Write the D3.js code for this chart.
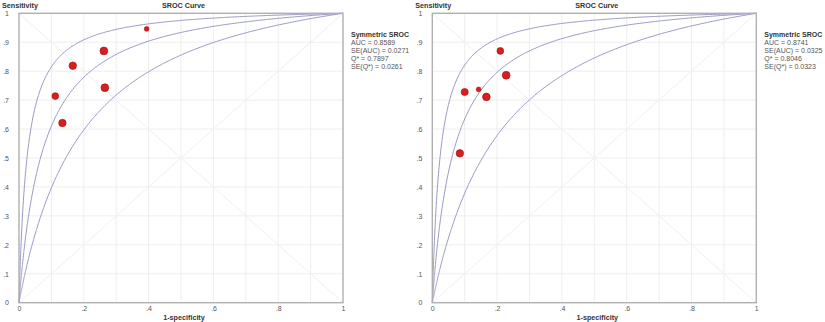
<!DOCTYPE html>
<html><head><meta charset="utf-8">
<script src="https://cdn.jsdelivr.net/npm/d3@7"></script>
<style>
body{margin:0;background:#fff;}
svg{display:block;font-family:"Liberation Sans",Arial,sans-serif;}
</style></head>
<body><svg id="c" width="825" height="322"></svg>
<script>
// ---- data ----
const xTicks = [0, 0.2, 0.4, 0.6, 0.8, 1];
const xTickLabels = ["0", ".2", ".4", ".6", ".8", "1"];
const yTicks = [0, 0.1, 0.2, 0.3, 0.4, 0.5, 0.6, 0.7, 0.8, 0.9, 1];
const yTickLabels = ["0", ".1", ".2", ".3", ".4", ".5", ".6", ".7", ".8", ".9", "1"];

// panel A studies
const fprA = [0.394, 0.262, 0.166, 0.265, 0.112, 0.134];
const tprA = [0.946, 0.870, 0.819, 0.743, 0.714, 0.621];
const wA   = [1.0, 2.6, 2.4, 2.6, 2.0, 2.4];
// SROC curve parameters (logit shift D: upper, fitted, lower)
const curvesA = [3.68, 2.646, 1.78];
const statsA = ["AUC = 0.8589", "SE(AUC) = 0.0271", "Q* = 0.7897", "SE(Q*) = 0.0261"];

// panel B studies
const fprB = [0.210, 0.228, 0.100, 0.143, 0.167, 0.085];
const tprB = [0.870, 0.786, 0.728, 0.737, 0.711, 0.516];
const wB   = [2.0, 2.6, 2.2, 1.0, 2.5, 2.4];
const curvesB = [3.72, 2.75, 1.70];
const statsB = ["AUC = 0.8741", "SE(AUC) = 0.0325", "Q* = 0.8046", "SE(Q*) = 0.0323"];

const titleText = "SROC Curve";
const yTitle = "Sensitivity";
const xTitle = "1-specificity";
const legendTitle = "Symmetric SROC";

// ---- drawing ----
const svg = d3.select("#c");
const rScale = d3.scaleSqrt().domain([0, 2.6]).range([0, 3.9]);

function panel(x0, fpr, tpr, w, curves, stats) {
  const x = d3.scaleLinear().domain([0, 1]).range([x0, x0 + 324]);
  const y = d3.scaleLinear().domain([0, 1]).range([302.7, 13.3]);
  const g = svg.append("g");

  // grid
  g.selectAll(".gx").data(d3.range(1, 10).map(i => i / 10)).join("line")
    .attr("x1", d => x(d)).attr("x2", d => x(d)).attr("y1", y(0)).attr("y2", y(1))
    .attr("stroke", "#eeeeee").attr("stroke-width", 1);
  g.selectAll(".gy").data(d3.range(1, 10).map(i => i / 10)).join("line")
    .attr("y1", d => y(d)).attr("y2", d => y(d)).attr("x1", x(0)).attr("x2", x(1))
    .attr("stroke", "#eeeeee").attr("stroke-width", 1);

  // diagonals
  g.append("line").attr("x1", x(0)).attr("y1", y(0)).attr("x2", x(1)).attr("y2", y(1))
    .attr("stroke", "#efefef").attr("stroke-width", 1);
  g.append("line").attr("x1", x(0)).attr("y1", y(1)).attr("x2", x(1)).attr("y2", y(0))
    .attr("stroke", "#efefef").attr("stroke-width", 1);

  // SROC curves
  const xs = [0].concat(d3.range(-9, 0, 0.05).map(e => Math.pow(10, e / 3))).concat(d3.range(0.01, 1.0001, 0.005));
  xs.sort((a, b) => a - b);
  const line = d3.line().x(d => x(d[0])).y(d => y(d[1])).curve(d3.curveLinear);
  curves.forEach(D => {
    const pts = xs.map(f => {
      if (f <= 0) return [0, 0];
      if (f >= 1) return [1, 1];
      const s = 1 / (1 + Math.exp(-(D + Math.log(f / (1 - f)))));
      return [f, s];
    });
    g.append("path").attr("d", line(pts)).attr("fill", "none")
      .attr("stroke", "#9898c6").attr("stroke-width", 1);
  });

  // frame
  g.append("rect").attr("x", x(0)).attr("y", y(1)).attr("width", x(1) - x(0)).attr("height", y(0) - y(1))
    .attr("fill", "none").attr("stroke", "#b0b0b0").attr("stroke-width", 1.4);

  // axes
  const xa = d3.axisBottom(x).tickValues(xTicks).tickFormat((d, i) => xTickLabels[i]).tickSize(0).tickPadding(3);
  const xg = g.append("g").attr("transform", `translate(0,${y(0)})`).call(xa);
  xg.select(".domain").remove();
  xg.selectAll("text").attr("font-size", 7).attr("fill", "#555").attr("font-family", "Liberation Sans, Arial");

  const ya = d3.axisLeft(y).tickValues(yTicks).tickFormat((d, i) => yTickLabels[i]).tickSize(0).tickPadding(10);
  const yg = g.append("g").attr("transform", `translate(${x(0)},0)`).call(ya);
  yg.select(".domain").remove();
  yg.selectAll("text").attr("font-size", 7).attr("fill", "#555").attr("font-family", "Liberation Sans, Arial");

  // titles
  g.append("text").attr("x", x(0) - 17).attr("y", 7.5).text(yTitle)
    .attr("font-size", 7.2).attr("font-weight", "bold").attr("fill", "#333");
  g.append("text").attr("x", x(0.5) + 2.5).attr("y", 7.5).attr("text-anchor", "middle").text(titleText)
    .attr("font-size", 7.2).attr("font-weight", "bold").attr("fill", "#333");
  g.append("text").attr("x", x(0.5) + 3).attr("y", 319.5).attr("text-anchor", "middle").text(xTitle)
    .attr("font-size", 7.2).attr("font-weight", "bold").attr("fill", "#333");

  // points
  g.selectAll(".pt").data(fpr.map((f, i) => [f, tpr[i], w[i]])).join("circle")
    .attr("cx", d => x(d[0])).attr("cy", d => y(d[1])).attr("r", d => rScale(d[2]))
    .attr("fill", "#d81e1e").attr("stroke", "#a01010").attr("stroke-width", 0.6);

  // legend
  const lx = x(1) + 8;
  g.append("text").attr("x", lx).attr("y", 36.8).text(legendTitle)
    .attr("font-size", 7).attr("font-weight", "bold").attr("fill", "#333");
  stats.forEach((s, i) => {
    g.append("text").attr("x", lx).attr("y", 44.8 + i * 7.9).text(s)
      .attr("font-size", 7).attr("fill", "#555");
  });
}

panel(19, fprA, tprA, wA, curvesA, statsA);
panel(432.3, fprB, tprB, wB, curvesB, statsB);
</script></body></html>
